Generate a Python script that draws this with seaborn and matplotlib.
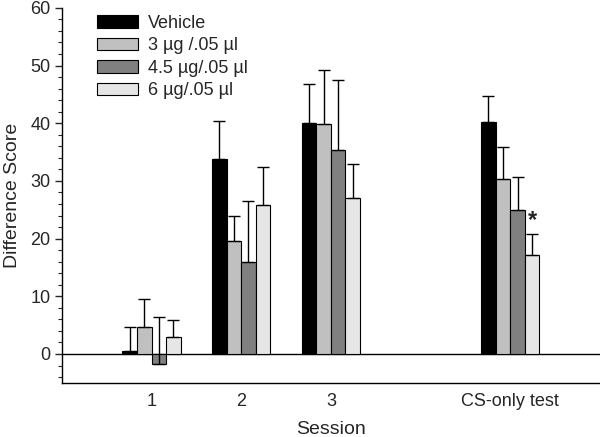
import pandas as pd
import seaborn as sns
import matplotlib.pyplot as plt
import numpy as np
from matplotlib.ticker import MultipleLocator

# data
sessions = ['1', '2', '3', 'CS-only test']
groups = ['Vehicle', '3 µg /.05 µl', '4.5 µg/.05 µl', '6 µg/.05 µl']
vehicle = [0.5, 33.8, 40.0, 40.2]
dose_3 = [4.7, 19.5, 39.8, 30.3]
dose_45 = [-1.8, 16.0, 35.4, 25.0]
dose_6 = [2.9, 25.8, 27.0, 17.2]
# upper error (SEM) for each bar
err_vehicle = [4.1, 6.6, 6.8, 4.6]
err_3 = [4.9, 4.4, 9.5, 5.5]
err_45 = [8.2, 10.6, 12.1, 5.6]
err_6 = [3.0, 6.6, 6.0, 3.6]
colors = ['#000000', '#c0c0c0', '#808080', '#e6e6e6']

means = [vehicle, dose_3, dose_45, dose_6]
errs = [err_vehicle, err_3, err_45, err_6]

rows = []
for g, m, e in zip(groups, means, errs):
    for s, v, ev in zip(sessions, m, e):
        rows.append({'session': s, 'group': g, 'score': v, 'err': ev})
df = pd.DataFrame(rows)

sns.set_style('ticks')
plt.rcParams['font.family'] = ['Liberation Sans', 'DejaVu Sans']

fig = plt.figure(figsize=(6, 4.37), dpi=100)
ax = fig.add_axes([0.103, 0.124, 0.897, 0.858])

# blank category leaves the gap before the CS-only test
order = ['1', '2', '3', ' ', 'CS-only test']
sns.barplot(data=df, x='session', y='score', hue='group', order=order,
            hue_order=groups, palette=colors, errorbar=None, width=0.65,
            edgecolor='black', linewidth=0.8, ax=ax, legend=True)

# upward-only error bars at the bar centres seaborn placed
for cont, g in zip(ax.containers, groups):
    sub = df[df['group'] == g]
    for bar in cont:
        h = bar.get_height() + bar.get_y()
        x = bar.get_x() + bar.get_width() / 2
        if bar.get_width() == 0 or np.isnan(h):
            continue
        match = sub[np.isclose(sub['score'], h)]
        if match.empty:
            continue
        ev = match['err'].iloc[0]
        ax.errorbar(x, h, yerr=[[0], [ev]], fmt='none', ecolor='black',
                    elinewidth=1.0, capsize=4.5, capthick=1.0, zorder=1)

# significance marker on the 6 µg CS-only bar
last = ax.containers[3][-1]
ax.text(last.get_x() + last.get_width() / 2, dose_6[-1] + err_6[-1] + 0.3, '*',
        ha='center', va='bottom', fontsize=17, fontweight='bold')

ax.axhline(0, color='black', linewidth=1.0, zorder=0)

ax.set_xlim(-1, 5)
ax.set_ylim(-5, 60)
ax.set_xticks([0, 1, 2, 4])
ax.set_xticklabels(sessions, fontsize=13)
ax.tick_params(axis='x', length=0, pad=7)
ax.yaxis.set_major_locator(MultipleLocator(10))
ax.yaxis.set_minor_locator(MultipleLocator(2))
ax.tick_params(axis='y', which='major', length=5, width=1, labelsize=13, pad=3)
ax.tick_params(axis='y', which='minor', length=3, width=0.8)
ax.set_xlabel('Session', fontsize=14, labelpad=8)
ax.set_ylabel('Difference Score', fontsize=14, labelpad=7)
sns.despine(ax=ax)
for sp in ['left', 'bottom']:
    ax.spines[sp].set_linewidth(1.0)
    ax.spines[sp].set_color('black')

ax.legend(loc='upper left', bbox_to_anchor=(0.045, 1.01), frameon=False,
          fontsize=13, handlelength=2.3, handleheight=0.7,
          handletextpad=0.55, labelspacing=0.3, borderaxespad=0.2)

fig.savefig('out.png', dpi=100)
